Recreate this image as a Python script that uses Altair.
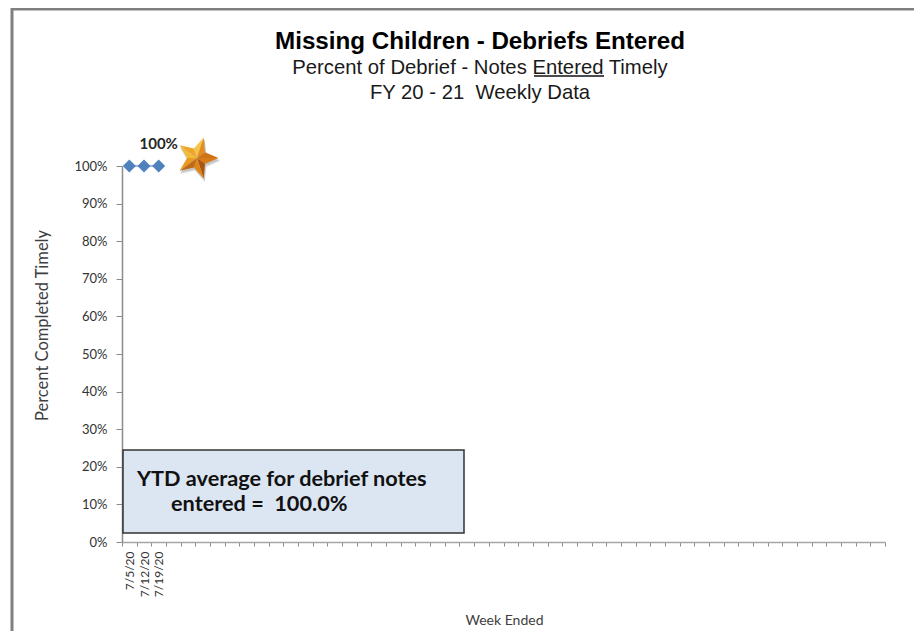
import math
import altair as alt
import pandas as pd

# ---- chart values ----
week_labels = ["7/5/20", "7/12/20", "7/19/20"]
week_values = [1.0, 1.0, 1.0]
# The fiscal-year axis holds 52 weekly slots; only the first three have data
future_slots = [f"slot {i}" for i in range(4, 53)]
y_ticks = [0, 0.1, 0.2, 0.3, 0.4, 0.5, 0.6, 0.7, 0.8, 0.9, 1.0]
title_text = "Missing Children - Debriefs Entered"
subtitle_lines = ["Percent of Debrief - Notes Entered Timely", "FY 20 - 21\u00a0 Weekly Data"]
callout_lines = ["YTD average for debrief notes", "entered =\u00a0 100.0%"]
peak_label = ["100%"]

domain = week_labels + future_slots
df = pd.DataFrame({"week": week_labels, "pct": week_values})
LEFT, TOP, W, H = 114, 158, 763, 376
FONT = "Lato"
TITLE_FONT = "Liberation Sans"

x_enc = alt.X("week:N", sort=domain,
              scale=alt.Scale(domain=domain, paddingInner=0, paddingOuter=0),
              axis=alt.Axis(title="Week Ended", titleFont=FONT, titleFontSize=14,
                            titleFontWeight="normal", titleColor="#404040",
                            titleY=71, titleX=382,
                            labelExpr="indexof(datum.label, 'slot') == 0 ? '' : datum.label",
                            labelAngle=270, labelAlign="right", labelBaseline="middle",
                            labelFont=FONT, labelFontSize=12, labelColor="#333333",
                            labelPadding=5, labelOverlap=False,
                            tickBand="extent", tickSize=4, tickColor="#8c8c8c",
                            domainColor="#a6a6a6", domainWidth=1.5, grid=False))
y_enc = alt.Y("pct:Q", scale=alt.Scale(domain=[0, 1]),
              axis=alt.Axis(title="Percent Completed Timely", titleFont=FONT, titleFontSize=16.5,
                            titleFontWeight="normal", titleColor="#404040",
                            titleX=-72, titleY=159, values=y_ticks, format=".0%",
                            labelFont=FONT, labelFontSize=13, labelColor="#333333",
                            labelPadding=9, labelOverlap=False, tickSize=6, tickColor="#8c8c8c",
                            domainColor="#8c8c8c", domainWidth=1.5, grid=False))

line = alt.Chart(df).mark_line(color="#7ea6d6", strokeWidth=1.5, clip=False).encode(x=x_enc, y=y_enc)
pts = alt.Chart(df).mark_point(shape="diamond", filled=True, color="#4f81bd", size=170,
                               opacity=1, clip=False).encode(x=x_enc, y=y_enc)
label = alt.Chart(df.tail(1).assign(t=peak_label)).mark_text(
    font=FONT, fontWeight="bold", fontSize=15, color="#262626", dy=-22
).encode(x=x_enc, y=y_enc, text="t:N")

# ---- star decoration (pointing right), built of bevelled facets ----
def pol(r, deg):
    return r * math.cos(math.radians(deg)), r * math.sin(math.radians(deg))

def path(points):
    return "M" + " L".join(f"{a:.3f},{b:.3f}" for a, b in points) + " Z"

outer = [pol(1, a) for a in (0, 72, 144, 216, 288)]
inner = [pol(0.46, a) for a in (36, 108, 180, 252, 324)]
star_outline = []
for o, i in zip(outer, inner):
    star_outline += [o, i]
facet_cols = ["#d87a16", "#a9560f", "#e08518", "#bf6a14", "#ea9a22",
              "#f2bb3c", "#efa52c", "#f4c347", "#e58c1e", "#cc7416"]
facets = []
n = len(star_outline)
for k in range(n):
    facets.append((path([(0, 0), star_outline[k], star_outline[(k + 1) % n]]), facet_cols[k]))

STAR_X, STAR_Y, STAR_SIZE = 75, -8, 1850
def sym(shape, color, x=STAR_X, y=STAR_Y, opacity=1.0, size=STAR_SIZE):
    return alt.Chart(df.head(1)).mark_point(shape=shape, filled=True, fill=color, stroke=None,
                                            size=size, opacity=opacity, clip=False).encode(
        x=alt.value(x), y=alt.value(y))

shadows = [sym(path(star_outline), "#7f7f7f", STAR_X + 1, STAR_Y + 3, 0.22, STAR_SIZE * 1.08),
           sym(path(star_outline), "#7f7f7f", STAR_X + 1, STAR_Y + 2, 0.3)]
star_layers = shadows + [sym(p, c) for p, c in facets]

# ---- text helper, callout, frame, underline ----
def text_at(s, x, y, **kw):
    return alt.Chart(pd.DataFrame({"t": [s]})).mark_text(baseline="middle", **kw).encode(
        x=alt.value(x), y=alt.value(y), text="t:N")

title_mark = text_at(title_text, 358, -124, font=TITLE_FONT, fontWeight="bold", fontSize=24.2,
                     color="#000000", align="center")
sub1 = text_at(subtitle_lines[0], 358, -98, font=TITLE_FONT, fontSize=20.3, color="#1a1a1a", align="center")
sub2 = text_at(subtitle_lines[1], 358, -73, font=TITLE_FONT, fontSize=20.3, color="#1a1a1a", align="center")

box = alt.Chart(df.head(1)).mark_rect(fill="#dce6f2", stroke="#333333", strokeWidth=1.5, clip=False).encode(
    x=alt.value(1), x2=alt.value(342), y=alt.value(284), y2=alt.value(367))
t1 = text_at(callout_lines[0], 15, 313, font=FONT, fontWeight="bold", fontSize=21.7, color="#111111", align="left")
t2 = text_at(callout_lines[1], 49, 338, font=FONT, fontWeight="bold", fontSize=21.7, color="#111111", align="left")

frame_left = alt.Chart(df.head(1)).mark_rule(color="#808080", strokeWidth=3, clip=False).encode(
    x=alt.value(-110), y=alt.value(-TOP), y2=alt.value(H + 89))
frame_top = alt.Chart(df.head(1)).mark_rule(color="#808080", strokeWidth=3, clip=False).encode(
    x=alt.value(-111), x2=alt.value(W + 29), y=alt.value(-157))
underline = alt.Chart(df.head(1)).mark_rule(color="#111111", strokeWidth=1.5, clip=False).encode(
    x=alt.value(412), x2=alt.value(482), y=alt.value(-90))

chart = alt.layer(frame_left, frame_top, line, pts, label, *star_layers, box, t1, t2,
                  title_mark, sub1, sub2, underline).properties(
    width=W, height=H,
    autosize=alt.AutoSizeParams(type="none"),
    padding={"left": LEFT, "top": TOP, "right": 29, "bottom": 89},
    background="white",
).configure_view(stroke=None)

chart.save("out.html", embed_options={"renderer": "svg", "actions": False})
